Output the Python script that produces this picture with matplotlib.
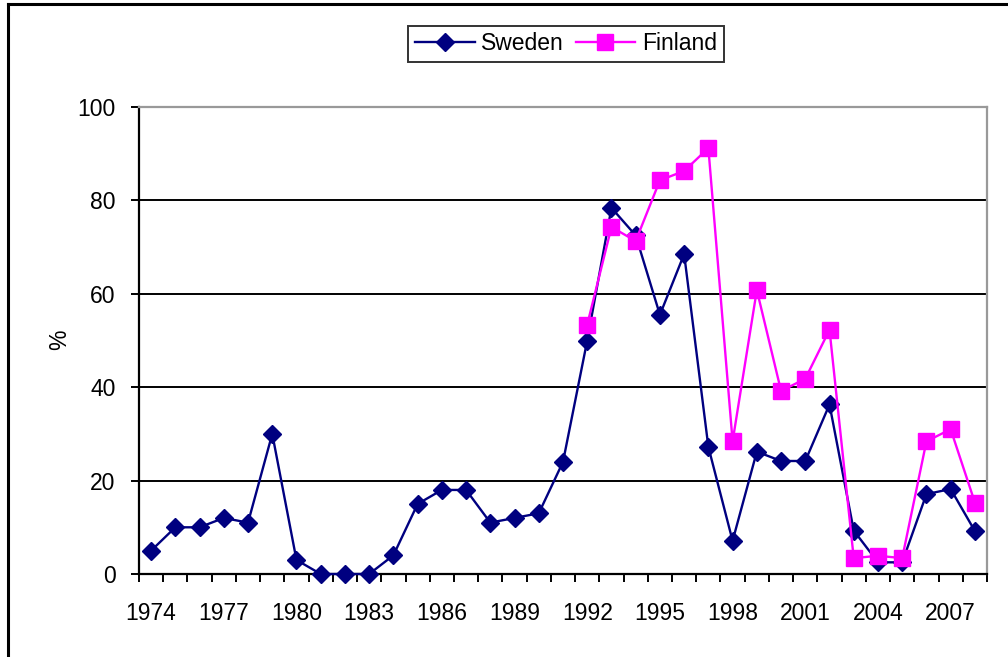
import matplotlib
matplotlib.use("Agg")
import matplotlib.pyplot as plt
from matplotlib.lines import Line2D
import numpy as np

plt.rcParams['font.family'] = ['Liberation Sans', 'DejaVu Sans']

years = list(range(1974, 2009))
sweden = [5, 10, 10, 12, 11, 30, 3, 0, 0, 0, 4, 15, 18, 18, 11, 12, 13, 24,
          50, 78.4, 72.5, 55.5, 68.5, 27.2, 7.1, 26.2, 24.2, 24.2, 36.3, 9.3,
          2.5, 2.5, 17.1, 18.2, 9.2]
finland_years = list(range(1992, 2009))
finland = [53.4, 74.3, 71.3, 84.3, 86.3, 91.2, 28.4, 60.8, 39.2, 41.8, 52.3,
           3.4, 3.9, 3.4, 28.4, 31.0, 15.3]
yticks = [0, 20, 40, 60, 80, 100]
label_years = years[::3]

FS = 16.5
W, H = 1008, 657
fig = plt.figure(figsize=(W / 100, H / 100), dpi=100)
ax = fig.add_axes([139 / W, 1 - 574 / H, (987 - 139) / W, (574 - 107) / H])

xs = np.arange(len(years))
xf = np.array([years.index(y) for y in finland_years])

ax.plot(xs, sweden, color='#000080', lw=1.7, marker='D', ms=9.5,
        mec='#000080', mfc='#000080', label='Sweden', zorder=3, clip_on=False)
ax.plot(xf, finland, color='#FF00FF', lw=1.7, marker='s', ms=11,
        mec='#FF00FF', mfc='#FF00FF', label='Finland', zorder=4, clip_on=False)

ax.set_xlim(-0.5, len(years) - 0.5)
ax.set_ylim(0, 100)
ax.set_yticks(yticks)
ax.set_yticklabels([str(v) for v in yticks])
ax.yaxis.grid(True, color='black', lw=1.4)
ax.set_axisbelow(True)

ax.set_xticks([years.index(y) for y in label_years])
ax.set_xticklabels([str(y) for y in label_years])
ax.set_xticks(np.arange(-0.5, len(years)), minor=True)
ax.tick_params(axis='x', which='major', length=0, pad=20, labelsize=FS)
ax.tick_params(axis='x', which='minor', length=6, width=1.4, direction='out')
ax.tick_params(axis='y', length=6, width=1.4, direction='out', pad=11, labelsize=FS)

for s in ['left', 'bottom']:
    ax.spines[s].set_color('black')
    ax.spines[s].set_linewidth(1.6)
for s in ['top', 'right']:
    ax.spines[s].set_color('#999999')
    ax.spines[s].set_linewidth(1.6)

fig.text(60 / W, 1 - 340 / H, '%', rotation=90, fontsize=FS,
         ha='center', va='center')

leg = fig.legend(loc='center', bbox_to_anchor=(566 / W, 1 - 44 / H), ncol=2,
                 frameon=True, fancybox=False, edgecolor='black', fontsize=FS,
                 handlelength=2.6, columnspacing=0.5, handletextpad=0.3,
                 borderpad=0.3)
leg.get_frame().set_linewidth(1.4)

# outer chart frame
fig.add_artist(Line2D([8 / W, 1.0], [1 - 4 / H, 1 - 4 / H], color='black', lw=2.2,
                      transform=fig.transFigure))
fig.add_artist(Line2D([8 / W, 8 / W], [0, 1 - 4 / H], color='black', lw=2.2,
                      transform=fig.transFigure))

fig.savefig('out.png', dpi=100, facecolor='white')
